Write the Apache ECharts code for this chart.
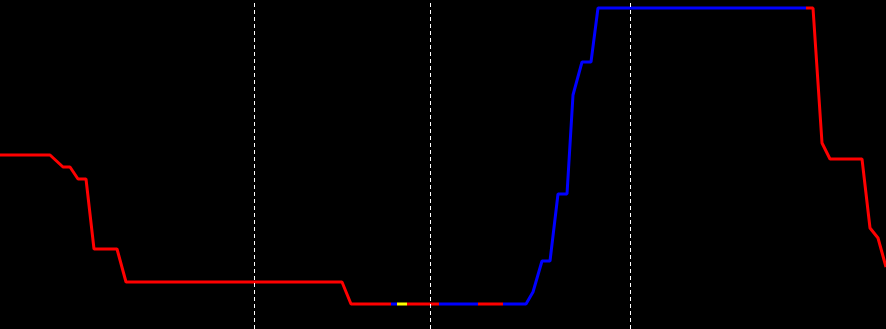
<!DOCTYPE html>
<html>
<head>
<meta charset="utf-8">
<script src="https://cdn.jsdelivr.net/npm/echarts@6/dist/echarts.min.js"></script>
<style>
  html, body { margin: 0; padding: 0; background: #000; }
  #chart { width: 886px; height: 329px; }
</style>
</head>
<body>
<div id="chart"></div>
<script>
// 时间轴位置
const xs = [0, 50, 63, 70, 78, 86, 94, 117, 126, 342, 351, 526, 533, 542, 550, 558, 567, 573, 582, 591, 598, 813, 822, 830, 862, 870, 878, 886]
// 高度
const levels = [174, 174, 162, 162, 150, 150, 80, 80, 47, 47, 25, 25, 37, 68, 68, 135, 135, 234, 267, 267, 321, 321, 186, 170, 170, 101, 91, 62]
// 颜色分段 [起点, 终点, 状态]
const segStart = [0, 391, 397, 407, 439, 478, 503, 806]
const segEnd = [391, 397, 407, 439, 478, 503, 806, 887]
const segState = ['red', 'blue', 'yellow', 'red', 'blue', 'red', 'blue', 'red']
// 竖线
const markX = [254, 430, 630]

const stateColor = { red: '#ff0000', blue: '#0000ff', yellow: '#ffff00' }

const chart = echarts.init(document.getElementById('chart'))

const option = {
  backgroundColor: '#000',
  animation: false,
  grid: { left: 0, right: 0, top: 0, bottom: 0 },
  xAxis: { type: 'value', min: 0, max: 886, show: false },
  yAxis: { type: 'value', min: 0, max: 329, show: false },
  visualMap: {
    show: false,
    type: 'piecewise',
    dimension: 0,
    seriesIndex: 0,
    pieces: segStart.map((s, i) => ({ gte: s, lt: segEnd[i], color: stateColor[segState[i]] }))
  },
  series: [
    {
      type: 'line',
      data: xs.map((x, i) => [x, levels[i]]),
      showSymbol: false,
      lineStyle: { width: 3 },
      markLine: {
        silent: true,
        symbol: 'none',
        label: { show: false },
        lineStyle: { color: '#fff', type: [4, 3], width: 1 },
        data: markX.map(x => ({ xAxis: x }))
      }
    }
  ]
}
chart.setOption(option)
</script>
</body>
</html>
